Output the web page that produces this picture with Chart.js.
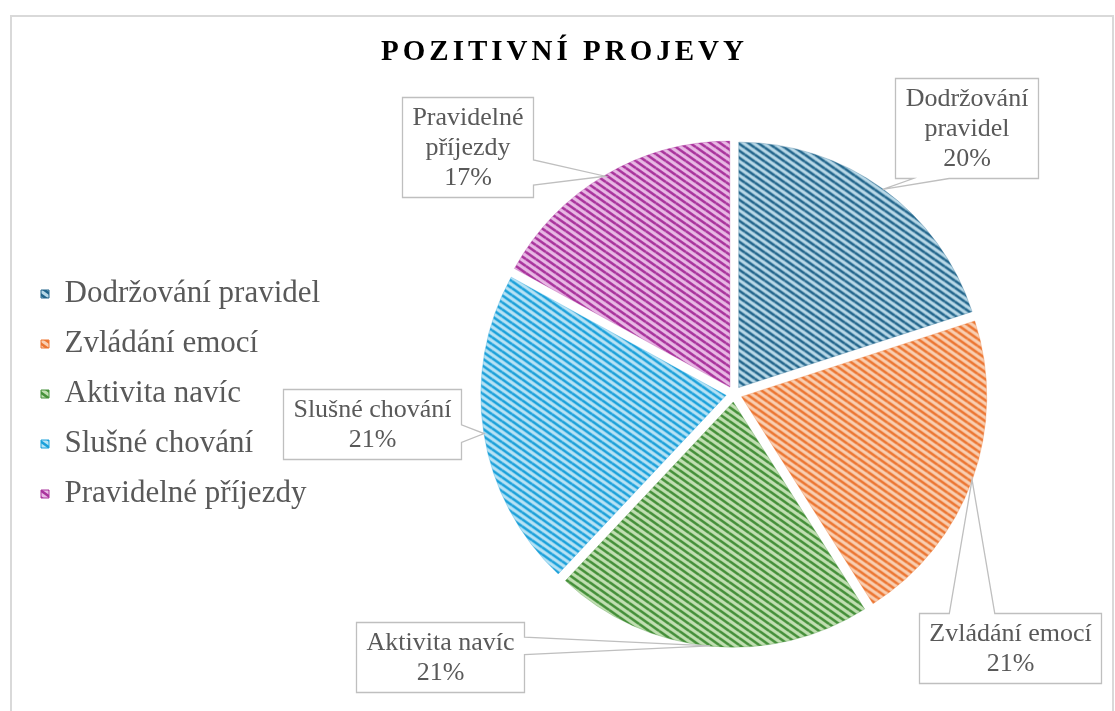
<!DOCTYPE html>
<html lang="cs">
<head>
<meta charset="UTF-8">
<title>Pozitivní projevy</title>
<script src="https://cdn.jsdelivr.net/npm/chart.js@4.4.1/dist/chart.umd.min.js"></script>
<style>
    html, body { margin: 0; padding: 0; background: #ffffff; }
    #wrap { width: 1115px; height: 711px; }
</style>
</head>
<body>
<div id="wrap"><canvas id="chart" width="1115" height="711"></canvas></div>
<script>
// data
const categories = ['Dodržování pravidel', 'Zvládání emocí', 'Aktivita navíc', 'Slušné chování', 'Pravidelné příjezdy'];
const shares = [20, 21, 21, 21, 17];

// colours: light background + darker stripes of the hatch
const lightColors = ['#b9d9e8', '#f9cfb2', '#c1dfb2', '#b8e3f5', '#e9b9e5'];
const darkColors = ['#22658b', '#ec7531', '#45903a', '#1aa0da', '#a9339c'];

// where each callout box sits, in pie radii from the centre, and wrap width
const calloutPos = [[0.947, -1.086], [1.127, 1.037], [-1.2, 1.073], [-1.478, 0.122], [-1.086, -1.008]];
const calloutWrap = [140, 220, 220, 220, 140];

const SERIF = '"Liberation Serif", "Times New Roman", serif';
const GREY = '#595959';

function stripes(bg, fg) {
    const w = 10, h = 7;
    const c = document.createElement('canvas');
    c.width = w; c.height = h;
    const g = c.getContext('2d');
    g.fillStyle = bg;
    g.fillRect(0, 0, w, h);
    g.strokeStyle = fg;
    g.lineWidth = 2.6;
    [[0, 0], [-w, 0], [w, 0], [0, -h], [0, h]].forEach(([dx, dy]) => {
        g.beginPath();
        g.moveTo(dx, dy);
        g.lineTo(dx + w, dy + h);
        g.stroke();
    });
    return g.createPattern(c, 'repeat');
}

const patterns = lightColors.map((c, i) => stripes(c, darkColors[i]));

function wrapText(ctx, text, maxW) {
    const words = text.split(' ');
    const lines = [];
    let cur = '';
    words.forEach(w => {
        const test = cur ? cur + ' ' + w : w;
        if (cur && ctx.measureText(test).width > maxW) {
            lines.push(cur);
            cur = w;
        } else {
            cur = test;
        }
    });
    if (cur) lines.push(cur);
    return lines;
}

// light grey frame round the chart
const framePlugin = {
    id: 'frame',
    beforeDraw(chart) {
        const ctx = chart.ctx;
        ctx.save();
        ctx.strokeStyle = '#d9d9d9';
        ctx.lineWidth = 2;
        ctx.strokeRect(11, 16, 1102, 720);
        ctx.restore();
    }
};

// widen the legend box and space out the title letters
const layoutTweaks = {
    id: 'layoutTweaks',
    beforeLayout(chart) {
        const lg = chart.legend;
        if (lg && !lg._wide) {
            const fit = lg.fit;
            lg.fit = function () {
                fit.call(this);
                this.width = 339;
            };
            lg._wide = true;
        }
        const tb = chart.titleBlock;
        if (tb && !tb._spaced) {
            const draw = tb.draw;
            tb.draw = function () {
                const ctx = this.ctx;
                ctx.letterSpacing = '4px';
                draw.call(this);
                ctx.letterSpacing = '0px';
            };
            tb._spaced = true;
        }
    }
};

// data label callouts
const calloutPlugin = {
    id: 'callouts',
    afterDatasetsDraw(chart) {
        const ctx = chart.ctx;
        const meta = chart.getDatasetMeta(0);
        const total = shares.reduce((a, b) => a + b, 0);
        const shift = (chart.data.datasets[0].offset || 0) / 4;
        const padX = 10, padY = 5, lineH = 30;
        ctx.save();
        ctx.font = '26px ' + SERIF;
        meta.data.forEach((arc, i) => {
            const p = arc.getProps(['x', 'y', 'startAngle', 'endAngle', 'outerRadius'], true);
            const mid = (p.startAngle + p.endAngle) / 2;
            const tipR = p.outerRadius + shift;
            const tx = p.x + Math.cos(mid) * tipR;
            const ty = p.y + Math.sin(mid) * tipR;

            const lines = wrapText(ctx, categories[i], calloutWrap[i]);
            lines.push(Math.round(shares[i] / total * 100) + '%');
            const w = Math.round(Math.max(...lines.map(l => ctx.measureText(l).width)) + 2 * padX);
            const h = lines.length * lineH + 2 * padY;
            const cx = p.x + calloutPos[i][0] * p.outerRadius;
            const cy = p.y + calloutPos[i][1] * p.outerRadius;
            const left = Math.round(cx - w / 2) + 0.5;
            const top = Math.round(cy - h / 2) + 0.5;
            const right = left + w, bottom = top + h;

            let side;
            if (ty > bottom) side = 'bottom';
            else if (ty < top) side = 'top';
            else side = tx > right ? 'right' : 'left';

            const clamp = (v, a, b) => Math.max(a, Math.min(b, v));
            ctx.beginPath();
            if (side === 'top' || side === 'bottom') {
                const len = right - left;
                const c = clamp(tx, left + len * 0.25, right - len * 0.25);
                const b1 = c - len * 0.125, b2 = c + len * 0.125;
                if (side === 'top') {
                    ctx.moveTo(left, top); ctx.lineTo(b1, top); ctx.lineTo(tx, ty); ctx.lineTo(b2, top);
                    ctx.lineTo(right, top); ctx.lineTo(right, bottom); ctx.lineTo(left, bottom);
                } else {
                    ctx.moveTo(left, top); ctx.lineTo(right, top); ctx.lineTo(right, bottom);
                    ctx.lineTo(b2, bottom); ctx.lineTo(tx, ty); ctx.lineTo(b1, bottom); ctx.lineTo(left, bottom);
                }
            } else {
                const len = bottom - top;
                const c = clamp(ty, top + len * 0.25, bottom - len * 0.25);
                const b1 = c - len * 0.125, b2 = c + len * 0.125;
                if (side === 'right') {
                    ctx.moveTo(left, top); ctx.lineTo(right, top); ctx.lineTo(right, b1); ctx.lineTo(tx, ty);
                    ctx.lineTo(right, b2); ctx.lineTo(right, bottom); ctx.lineTo(left, bottom);
                } else {
                    ctx.moveTo(left, top); ctx.lineTo(right, top); ctx.lineTo(right, bottom); ctx.lineTo(left, bottom);
                    ctx.lineTo(left, b2); ctx.lineTo(tx, ty); ctx.lineTo(left, b1);
                }
            }
            ctx.closePath();
            ctx.fillStyle = '#ffffff';
            ctx.fill();
            ctx.strokeStyle = '#bfbfbf';
            ctx.lineWidth = 1.3;
            ctx.stroke();

            ctx.fillStyle = GREY;
            ctx.textAlign = 'center';
            ctx.textBaseline = 'middle';
            lines.forEach((l, k) => {
                ctx.fillText(l, (left + right) / 2, top + padY + lineH * (k + 0.5) + 1);
            });
        });
        ctx.restore();
    }
};

const chart = new Chart(document.getElementById('chart'), {
    type: 'pie',
    data: {
        labels: categories,
        datasets: [{
            data: shares,
            backgroundColor: patterns,
            borderColor: darkColors.map(c => c + '50'),
            borderWidth: 1,
            offset: 32
        }]
    },
    options: {
        responsive: false,
        animation: false,
        devicePixelRatio: 1,
        layout: { padding: { left: 22, right: 8, top: 0, bottom: 55.5 } },
        plugins: {
            title: {
                display: true,
                text: 'POZITIVNÍ PROJEVY',
                color: '#000000',
                font: { family: SERIF, size: 29, weight: 'bold' },
                padding: { top: 35.6, bottom: 62.1 }
            },
            legend: {
                position: 'left',
                fullSize: false,
                labels: {
                    font: { family: SERIF, size: 31 },
                    color: GREY,
                    boxWidth: 8,
                    boxHeight: 8,
                    padding: 19,
                    generateLabels(ch) {
                        const items = Chart.overrides.pie.plugins.legend.labels.generateLabels(ch);
                        return items.map((it, i) => Object.assign(it, {
                            strokeStyle: darkColors[i],
                            lineWidth: 1,
                            fontColor: GREY
                        }));
                    }
                }
            },
            tooltip: { enabled: false }
        }
    },
    plugins: [framePlugin, layoutTweaks, calloutPlugin]
});
</script>
</body>
</html>
